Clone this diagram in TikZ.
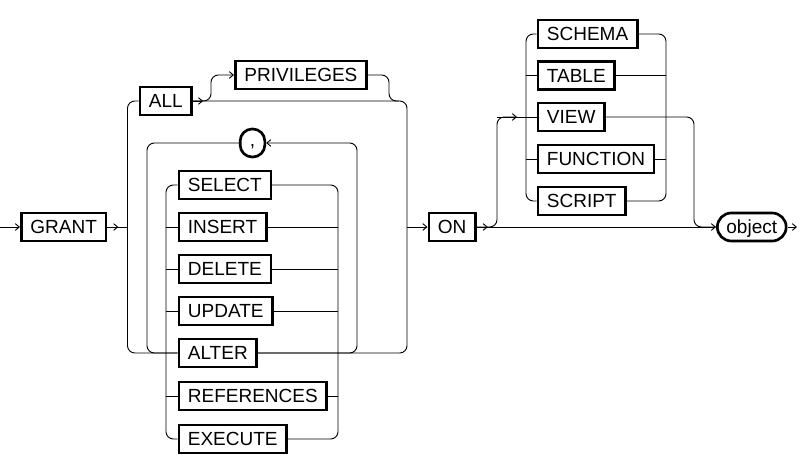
\documentclass[tikz,border=0pt]{standalone}
\usepackage{fontspec}
\setmainfont{Liberation Sans}
\usetikzlibrary{shapes,arrows.meta}

\tikzset{
  kw/.style={draw, line width=2pt, anchor=west, inner xsep=6.8pt, inner ysep=0pt,
    minimum height=21pt, text height=10.2pt, text depth=0pt,
    font=\fontsize{14.25}{17}\selectfont},
  term/.style={kw, rounded corners=10.5pt},
  rail/.style={line width=0.7pt, rounded corners=5.5pt},
  >={Straight Barb[length=3pt,width=5pt]}
}

\begin{document}
\begin{tikzpicture}[x=0.75pt,y=-0.75pt]
    \useasboundingbox (0,0) rectangle (802,466);

    % Keywords
    \node[kw] (grant) at (20,227) {GRANT};
    \node[kw] (all) at (138.5,101) {ALL};
    \node[kw] (privileges) at (234,75) {PRIVILEGES};
    \node[term, anchor=center, minimum width=18.5pt, rounded corners=9pt, text height=6pt] (comma) at (252.5,143) {,};
    \node[kw] (select) at (177.5,185) {SELECT};
    \node[kw] (insert) at (177.5,227) {INSERT};
    \node[kw] (delete) at (177.5,269) {DELETE};
    \node[kw] (update) at (177.5,311) {UPDATE};
    \node[kw] (alter) at (177.5,353) {ALTER};
    \node[kw] (references) at (177.5,396) {REFERENCES};
    \node[kw] (execute) at (177.5,439) {EXECUTE};
    \node[kw] (on) at (427.5,227) {ON};
    \node[kw] (schema) at (536.5,34) {SCHEMA};
    \node[kw] (table) at (536.5,75.5) {TABLE};
    \node[kw] (view) at (536.5,117) {VIEW};
    \node[kw] (function) at (536.5,159) {FUNCTION};
    \node[kw] (script) at (536.5,201) {SCRIPT};
    \node[term] (object) at (716,227) {object};

    % Rail junctions
    \coordinate (start) at (0,227);
    \coordinate (stop) at (797,227);
    \coordinate (ol) at (127.5,227);
    \coordinate (orr) at (407,227);
    \coordinate (pl) at (147,227);
    \coordinate (pr) at (357,227);
    \coordinate (il) at (166,227);
    \coordinate (ir) at (338,227);
    \coordinate (pb) at (211,227);
    \coordinate (pj) at (389,227);
    \coordinate (vb) at (497,227);
    \coordinate (vj) at (694,227);
    \coordinate (sl) at (526,227);
    \coordinate (sr) at (666,227);

    % GRANT
    \draw[rail,->] (start) -- (grant.west);
    \draw[rail,->] (grant.east) -- ++(11,0);
    \draw[rail] (grant.east) -- (ol);

    % ALL [PRIVILEGES] or list
    \draw[rail] (all.west) -| (ol |- alter) -- (alter.west);
    \draw[rail] (alter.east) -| (orr |- all) -- (all.east);
    \draw[rail,->] (all.east) -- ++(10,0);
    \draw[rail,->] (all.east) -| (pb |- privileges) -- (privileges.west);
    \draw[rail] (privileges.east) -| (pj |- all) -- ++(10,0);
    \draw[rail,->] (orr) -- (on.west);

    % Comma loop
    \draw[rail,->] (alter.east) -| (pr |- comma) -- (comma.east);
    \draw[rail] (comma.west) -| (pl |- alter) -- (alter.west);

    % Privilege list
    \draw[rail] (select.west) -| (il |- execute) -- (execute.west);
    \draw[rail] (select.east) -| (ir |- execute) -- (execute.east);
    \foreach \n in {insert,delete,update,references}
        \draw[rail] (\n.west -| il) -- (\n.west) (\n.east) -- (\n.east -| ir);

    % ON
    \draw[rail,->] (on.east) -- (object.west);
    \draw[rail,->] (on.east) -- ++(11,0);
    \draw[rail,->] (on.east) -| (vb |- view) -- ++(20,0);
    \draw[rail] (vb |- view) -- (view.west);
    \draw[rail] (view.east) -| (vj |- object) -- (object.west);

    % Object types
    \draw[rail] (schema.west) -| (sl |- script) -- (script.west);
    \draw[rail] (schema.east) -| (sr |- script) -- (script.east);
    \foreach \n in {table,function}
        \draw[rail] (\n.west -| sl) -- (\n.west) (\n.east) -- (\n.east -| sr);

    % Exit
    \draw[rail,->] (object.east) -- (stop);
\end{tikzpicture}
\end{document}
